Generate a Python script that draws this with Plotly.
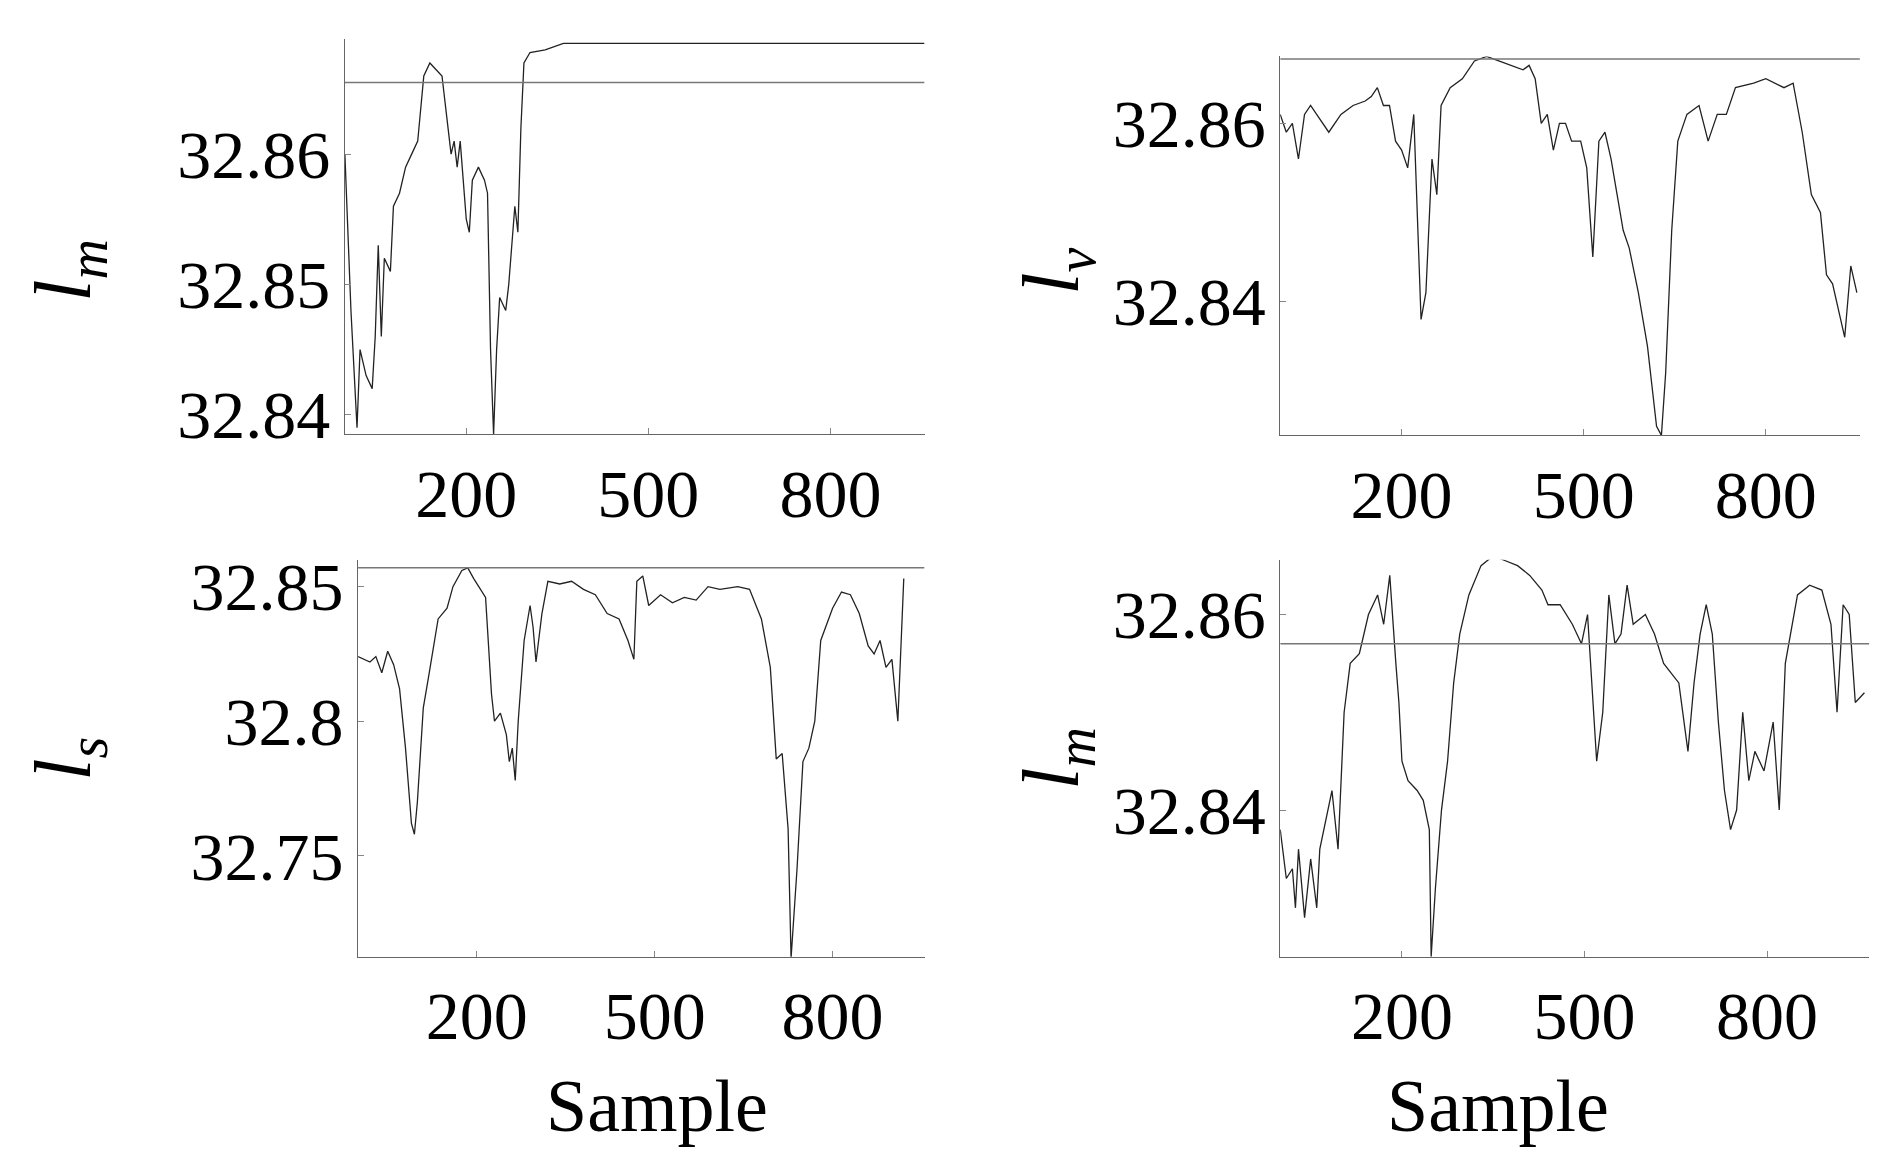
import plotly.graph_objects as go
from plotly.subplots import make_subplots

# top-left: l_m
tl_x = [0, 10, 20, 25, 35, 45, 50, 55, 60, 65, 75, 80, 90, 100, 110, 120, 130, 140, 150, 160, 170, 175, 180,
        185, 190, 195, 200, 205, 210, 220, 230, 235, 240, 245, 250, 255, 265, 270, 280, 285, 290, 295, 305, 330, 360, 955]
tl_y = [32.860, 32.848, 32.839, 32.845, 32.843, 32.842, 32.846, 32.853, 32.846, 32.852, 32.851, 32.856, 32.857,
        32.859, 32.860, 32.861, 32.866, 32.867, 32.8665, 32.866, 32.862, 32.860, 32.861, 32.859, 32.861, 32.858,
        32.855, 32.854, 32.858, 32.859, 32.858, 32.857, 32.845, 32.8385, 32.845, 32.849, 32.848, 32.850, 32.856,
        32.854, 32.862, 32.867, 32.8678, 32.868, 32.8685, 32.8685]
tl_ref = 32.8655

# top-right: l_v
tr_x = [0, 10, 20, 30, 40, 50, 60, 80, 100, 120, 140, 150, 160, 170, 180, 190, 200, 210, 220, 225, 232, 240, 250,
        258, 265, 280, 300, 320, 340, 360, 380, 400, 410, 420, 430, 440, 450, 460, 470, 480, 495, 505, 515, 525,
        535, 545, 555, 565, 575, 590, 605, 620, 628, 635, 645, 655, 670, 690, 705, 720, 735, 750, 780, 800, 830,
        845, 860, 875, 890, 900, 910, 920, 930, 940, 950]
tr_y = [32.861, 32.859, 32.860, 32.856, 32.861, 32.862, 32.861, 32.859, 32.861, 32.862, 32.8625, 32.863, 32.864,
        32.862, 32.862, 32.858, 32.857, 32.855, 32.861, 32.852, 32.838, 32.841, 32.856, 32.852, 32.862, 32.864,
        32.865, 32.867, 32.8675, 32.867, 32.8665, 32.866, 32.8665, 32.865, 32.860, 32.861, 32.857, 32.860, 32.860,
        32.858, 32.858, 32.855, 32.845, 32.858, 32.859, 32.856, 32.852, 32.848, 32.846, 32.841, 32.835, 32.826,
        32.825, 32.832, 32.848, 32.858, 32.861, 32.862, 32.858, 32.861, 32.861, 32.864, 32.8645, 32.865, 32.864,
        32.8645, 32.859, 32.852, 32.850, 32.843, 32.842, 32.839, 32.836, 32.844, 32.841]
tr_ref = 32.8672

# bottom-left: l_s
bl_x = [0, 10, 20, 30, 40, 50, 60, 70, 80, 90, 95, 100, 110, 120, 135, 150, 160, 175, 185, 195, 210, 215, 225,
        230, 240, 250, 255, 260, 265, 270, 280, 290, 295, 300, 310, 320, 340, 360, 380, 400, 420, 440, 455, 465,
        470, 480, 490, 510, 530, 550, 570, 590, 610, 640, 660, 680, 695, 705, 715, 725, 730, 740, 750, 760, 770,
        780, 800, 815, 830, 845, 860, 870, 880, 890, 900, 910, 920]
bl_y = [32.824, 32.823, 32.822, 32.824, 32.818, 32.826, 32.821, 32.812, 32.790, 32.762, 32.758, 32.770, 32.805,
        32.818, 32.838, 32.842, 32.850, 32.856, 32.857, 32.853, 32.848, 32.846, 32.810, 32.800, 32.803, 32.795,
        32.785, 32.790, 32.778, 32.800, 32.830, 32.843, 32.835, 32.822, 32.840, 32.852, 32.851, 32.852, 32.849,
        32.847, 32.840, 32.838, 32.830, 32.823, 32.852, 32.854, 32.843, 32.847, 32.844, 32.846, 32.845, 32.850,
        32.849, 32.850, 32.849, 32.838, 32.820, 32.786, 32.788, 32.760, 32.712, 32.745, 32.785, 32.790, 32.800,
        32.830, 32.842, 32.848, 32.847, 32.840, 32.828, 32.825, 32.830, 32.820, 32.823, 32.800, 32.853]
bl_ref = 32.857

# bottom-right: l_m
br_x = [0, 10, 20, 25, 30, 40, 50, 60, 65, 75, 85, 95, 105, 115, 130, 145, 160, 170, 180, 190, 195, 200, 210,
        225, 235, 245, 248, 255, 265, 275, 285, 295, 310, 330, 350, 370, 390, 410, 430, 440, 460, 480, 495, 505,
        520, 530, 540, 550, 560, 570, 580, 600, 615, 630, 655, 670, 680, 690, 700, 710, 720, 730, 740, 750, 760,
        770, 780, 795, 810, 820, 830, 850, 870, 890, 905, 915, 925, 935, 945, 960]
br_y = [32.838, 32.833, 32.834, 32.830, 32.836, 32.829, 32.835, 32.830, 32.836, 32.839, 32.842, 32.836, 32.850,
        32.855, 32.856, 32.860, 32.862, 32.859, 32.864, 32.855, 32.851, 32.845, 32.843, 32.842, 32.841, 32.838,
        32.825, 32.832, 32.840, 32.845, 32.853, 32.858, 32.862, 32.865, 32.866, 32.8655, 32.865, 32.864, 32.8625,
        32.861, 32.861, 32.859, 32.857, 32.860, 32.845, 32.850, 32.862, 32.857, 32.858, 32.863, 32.859, 32.860,
        32.858, 32.855, 32.853, 32.846, 32.853, 32.858, 32.861, 32.858, 32.849, 32.842, 32.838, 32.840, 32.850,
        32.843, 32.846, 32.844, 32.849, 32.840, 32.855, 32.862, 32.863, 32.8625, 32.859, 32.850, 32.861, 32.860,
        32.851, 32.852]
br_ref = 32.857

x_ticks = [200, 500, 800]

panels = [
    (tl_x, tl_y, tl_ref, [0, 955], [32.8385, 32.8688], [32.84, 32.85, 32.86], "l<sub>m</sub>",
     [0.179, 0.487], [0.632, 0.981]),
    (tr_x, tr_y, tr_ref, [0, 955], [32.825, 32.8675], [32.84, 32.86], "l<sub>v</sub>",
     [0.676, 0.984], [0.631, 0.966]),
    (bl_x, bl_y, bl_ref, [0, 955], [32.7125, 32.86], [32.75, 32.8, 32.85], "l<sub>s</sub>",
     [0.186, 0.487], [0.170, 0.521]),
    (br_x, br_y, br_ref, [0, 968], [32.825, 32.8656], [32.84, 32.86], "l<sub>m</sub>",
     [0.676, 0.989], [0.170, 0.521]),
]

fig = make_subplots(rows=2, cols=2)
font = "Liberation Serif"
title_x = [0.005, 0.53, 0.005, 0.53]

for i, (xs, ys, ref, xr, yr, yt, lab, dx, dy) in enumerate(panels):
    r, c = i // 2 + 1, i % 2 + 1
    fig.add_trace(go.Scatter(x=xs, y=ys, mode="lines", line=dict(color="#222", width=1.3),
                             showlegend=False), row=r, col=c)
    fig.add_trace(go.Scatter(x=xr, y=[ref, ref], mode="lines", line=dict(color="#777", width=1.5),
                             showlegend=False), row=r, col=c)
    fig.update_xaxes(range=xr, domain=dx, tickvals=x_ticks, ticks="inside", ticklen=6, tickcolor="#888",
                     showline=True, linecolor="#666", showgrid=False, zeroline=False,
                     tickfont=dict(family=font, size=68, color="black"), row=r, col=c)
    fig.update_yaxes(range=yr, domain=dy, tickvals=yt, ticks="inside", ticklen=6, tickcolor="#888",
                     showline=True, linecolor="#666", showgrid=False, zeroline=False,
                     tickfont=dict(family=font, size=68, color="black"), row=r, col=c)
    fig.add_annotation(text="<i>" + lab + "</i>", xref="paper", yref="paper", x=title_x[i], xanchor="left",
                       y=(dy[0] + dy[1]) / 2, textangle=-90, showarrow=False,
                       font=dict(family=font, size=80, color="black"))

for xc in [0.345, 0.852]:
    fig.add_annotation(text="Sample", xref="paper", yref="paper", x=xc, y=0.0, yanchor="bottom",
                       showarrow=False, font=dict(family=font, size=74, color="black"))

fig.update_layout(width=1882, height=1160, margin=dict(l=0, r=0, t=0, b=0),
                  plot_bgcolor="white", paper_bgcolor="white")
fig.write_html("out.html")
